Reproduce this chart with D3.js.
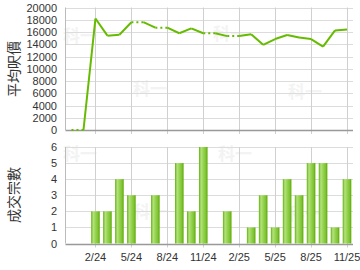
<!DOCTYPE html>
<html>
<head>
<meta charset="utf-8">
<script src="https://cdn.jsdelivr.net/npm/d3@7"></script>
<style>
body { margin: 0; background: #fff; }
svg { display: block; font-family: "Liberation Sans", Arial, sans-serif; }
</style>
</head>
<body>
<svg width="360" height="270"></svg>
<script>
const months = ["12/23","1/24","2/24","3/24","4/24","5/24","6/24","7/24","8/24","9/24","10/24","11/24",
                "12/24","1/25","2/25","3/25","4/25","5/25","6/25","7/25","8/25","9/25","10/25","11/25"]
// null = no transactions that month (line carries the previous price, drawn dotted)
const avgPrice = [0, null, 18200, 15400, 15550, 17600, null, 16700, null, 15800, 16600, 15800,
                  null, 15330, null, 15650, 13900, 14850, 15500, 15100, 14850, 13600, 16250, 16400]
const deals = [0, 0, 2, 2, 4, 3, 0, 3, 0, 5, 2, 6, 0, 2, 0, 1, 3, 1, 4, 3, 5, 5, 1, 4]
const tickMonths = ["2/24","5/24","8/24","11/24","2/25","5/25","8/25","11/25"]
const priceTicks = d3.range(0, 20001, 2000)
const dealTicks = d3.range(0, 7)

const svg = d3.select("svg")
const left = 65.5, right = 353

const x = d3.scaleBand().domain(months).range([left, right])
const xc = m => x(m) + x.bandwidth() / 2

const yTop = d3.scaleLinear().domain([0, 20000]).range([130, 7.5])
const yBot = d3.scaleLinear().domain([0, 6]).range([243.5, 147])

const defs = svg.append("defs")
const grad = defs.append("linearGradient").attr("id", "bar").attr("x1", 0).attr("x2", 1)
grad.selectAll("stop")
  .data([[0, "#62b010"], [0.25, "#b4e27c"], [0.5, "#98d454"], [0.8, "#7cc430"], [1, "#5aa600"]])
  .join("stop").attr("offset", d => d[0]).attr("stop-color", d => d[1])

// watermark
const wm = [[60, 40], [150, 100], [300, 40], [380 - 30, 95], [60, 160], [150, 225], [290, 160], [340, 230]]
svg.append("g").selectAll("text").data([[80, 42], [150, 95], [230, 40], [305, 98], [80, 160], [150, 218], [235, 160], [305, 220]])
  .join("text")
  .attr("x", d => d[0]).attr("y", d => d[1])
  .attr("text-anchor", "middle")
  .attr("font-size", 17).attr("font-weight", "bold")
  .attr("fill", "#f3f3f3")
  .attr("font-family", "Noto Sans CJK TC")
  .text("科一")

function panel(y, ticks, fmt) {
  const g = svg.append("g")
  g.selectAll("line.h").data(ticks.slice(1)).join("line")
    .attr("x1", left).attr("x2", right)
    .attr("y1", d => Math.round(y(d)) + 0.5).attr("y2", d => Math.round(y(d)) + 0.5)
    .attr("stroke", "#dcdcdc")
  g.selectAll("line.v").data(tickMonths).join("line")
    .attr("x1", d => Math.round(xc(d)) + 0.5).attr("x2", d => Math.round(xc(d)) + 0.5)
    .attr("y1", y.range()[1]).attr("y2", y.range()[0] + 4)
    .attr("stroke", "#d0d0d0")
  g.selectAll("text.y").data(ticks).join("text")
    .attr("x", 57).attr("y", d => y(d) + 4)
    .attr("text-anchor", "end").attr("font-size", 11).attr("fill", "#333")
    .text(fmt)
  g.append("line").attr("x1", left).attr("x2", left)
    .attr("y1", y.range()[1]).attr("y2", y.range()[0]).attr("stroke", "#bbb")
  g.append("line").attr("x1", left).attr("x2", right)
    .attr("y1", Math.round(y(0)) + 0.5).attr("y2", Math.round(y(0)) + 0.5).attr("stroke", "#999").attr("stroke-width", 1.5)
  return g
}

panel(yTop, priceTicks, d => d)
const gb = panel(yBot, dealTicks, d => d)

// line: carry forward missing values
const pts = []
let last = 0
avgPrice.forEach((v, i) => {
  const missing = v === null || (i === 0)
  if (v !== null) last = v
  pts.push({ m: months[i], v: last, missing: v === null })
})
const segs = svg.append("g").attr("fill", "none").attr("stroke", "#66bb00").attr("stroke-width", 2)
for (let i = 1; i < pts.length; i++) {
  const a = pts[i - 1], b = pts[i]
  segs.append("line")
    .attr("x1", xc(a.m)).attr("y1", yTop(a.v))
    .attr("x2", xc(b.m)).attr("y2", yTop(b.v))
    .attr("stroke-dasharray", b.missing ? "2,3" : null)
}

// bars
gb.selectAll("rect.bar").data(deals.map((d, i) => ({ m: months[i], v: d })).filter(d => d.v > 0))
  .join("rect")
  .attr("x", d => xc(d.m) - 4.3).attr("width", 8.6)
  .attr("y", d => yBot(d.v)).attr("height", d => yBot(0) - yBot(d.v))
  .attr("fill", "url(#bar)")

gb.selectAll("text.x").data(tickMonths).join("text")
  .attr("x", d => xc(d)).attr("y", 261)
  .attr("text-anchor", "middle").attr("font-size", 11).attr("fill", "#333")
  .text(d => d)

svg.append("text").attr("transform", "translate(19,69) rotate(-90)")
  .attr("text-anchor", "middle").attr("font-size", 14).attr("fill", "#333")
  .attr("font-family", "Noto Sans CJK TC")
  .text("平均呎價")
svg.append("text").attr("transform", "translate(19,195) rotate(-90)")
  .attr("text-anchor", "middle").attr("font-size", 14).attr("fill", "#333")
  .attr("font-family", "Noto Sans CJK TC")
  .text("成交宗數")
</script>
</body>
</html>
